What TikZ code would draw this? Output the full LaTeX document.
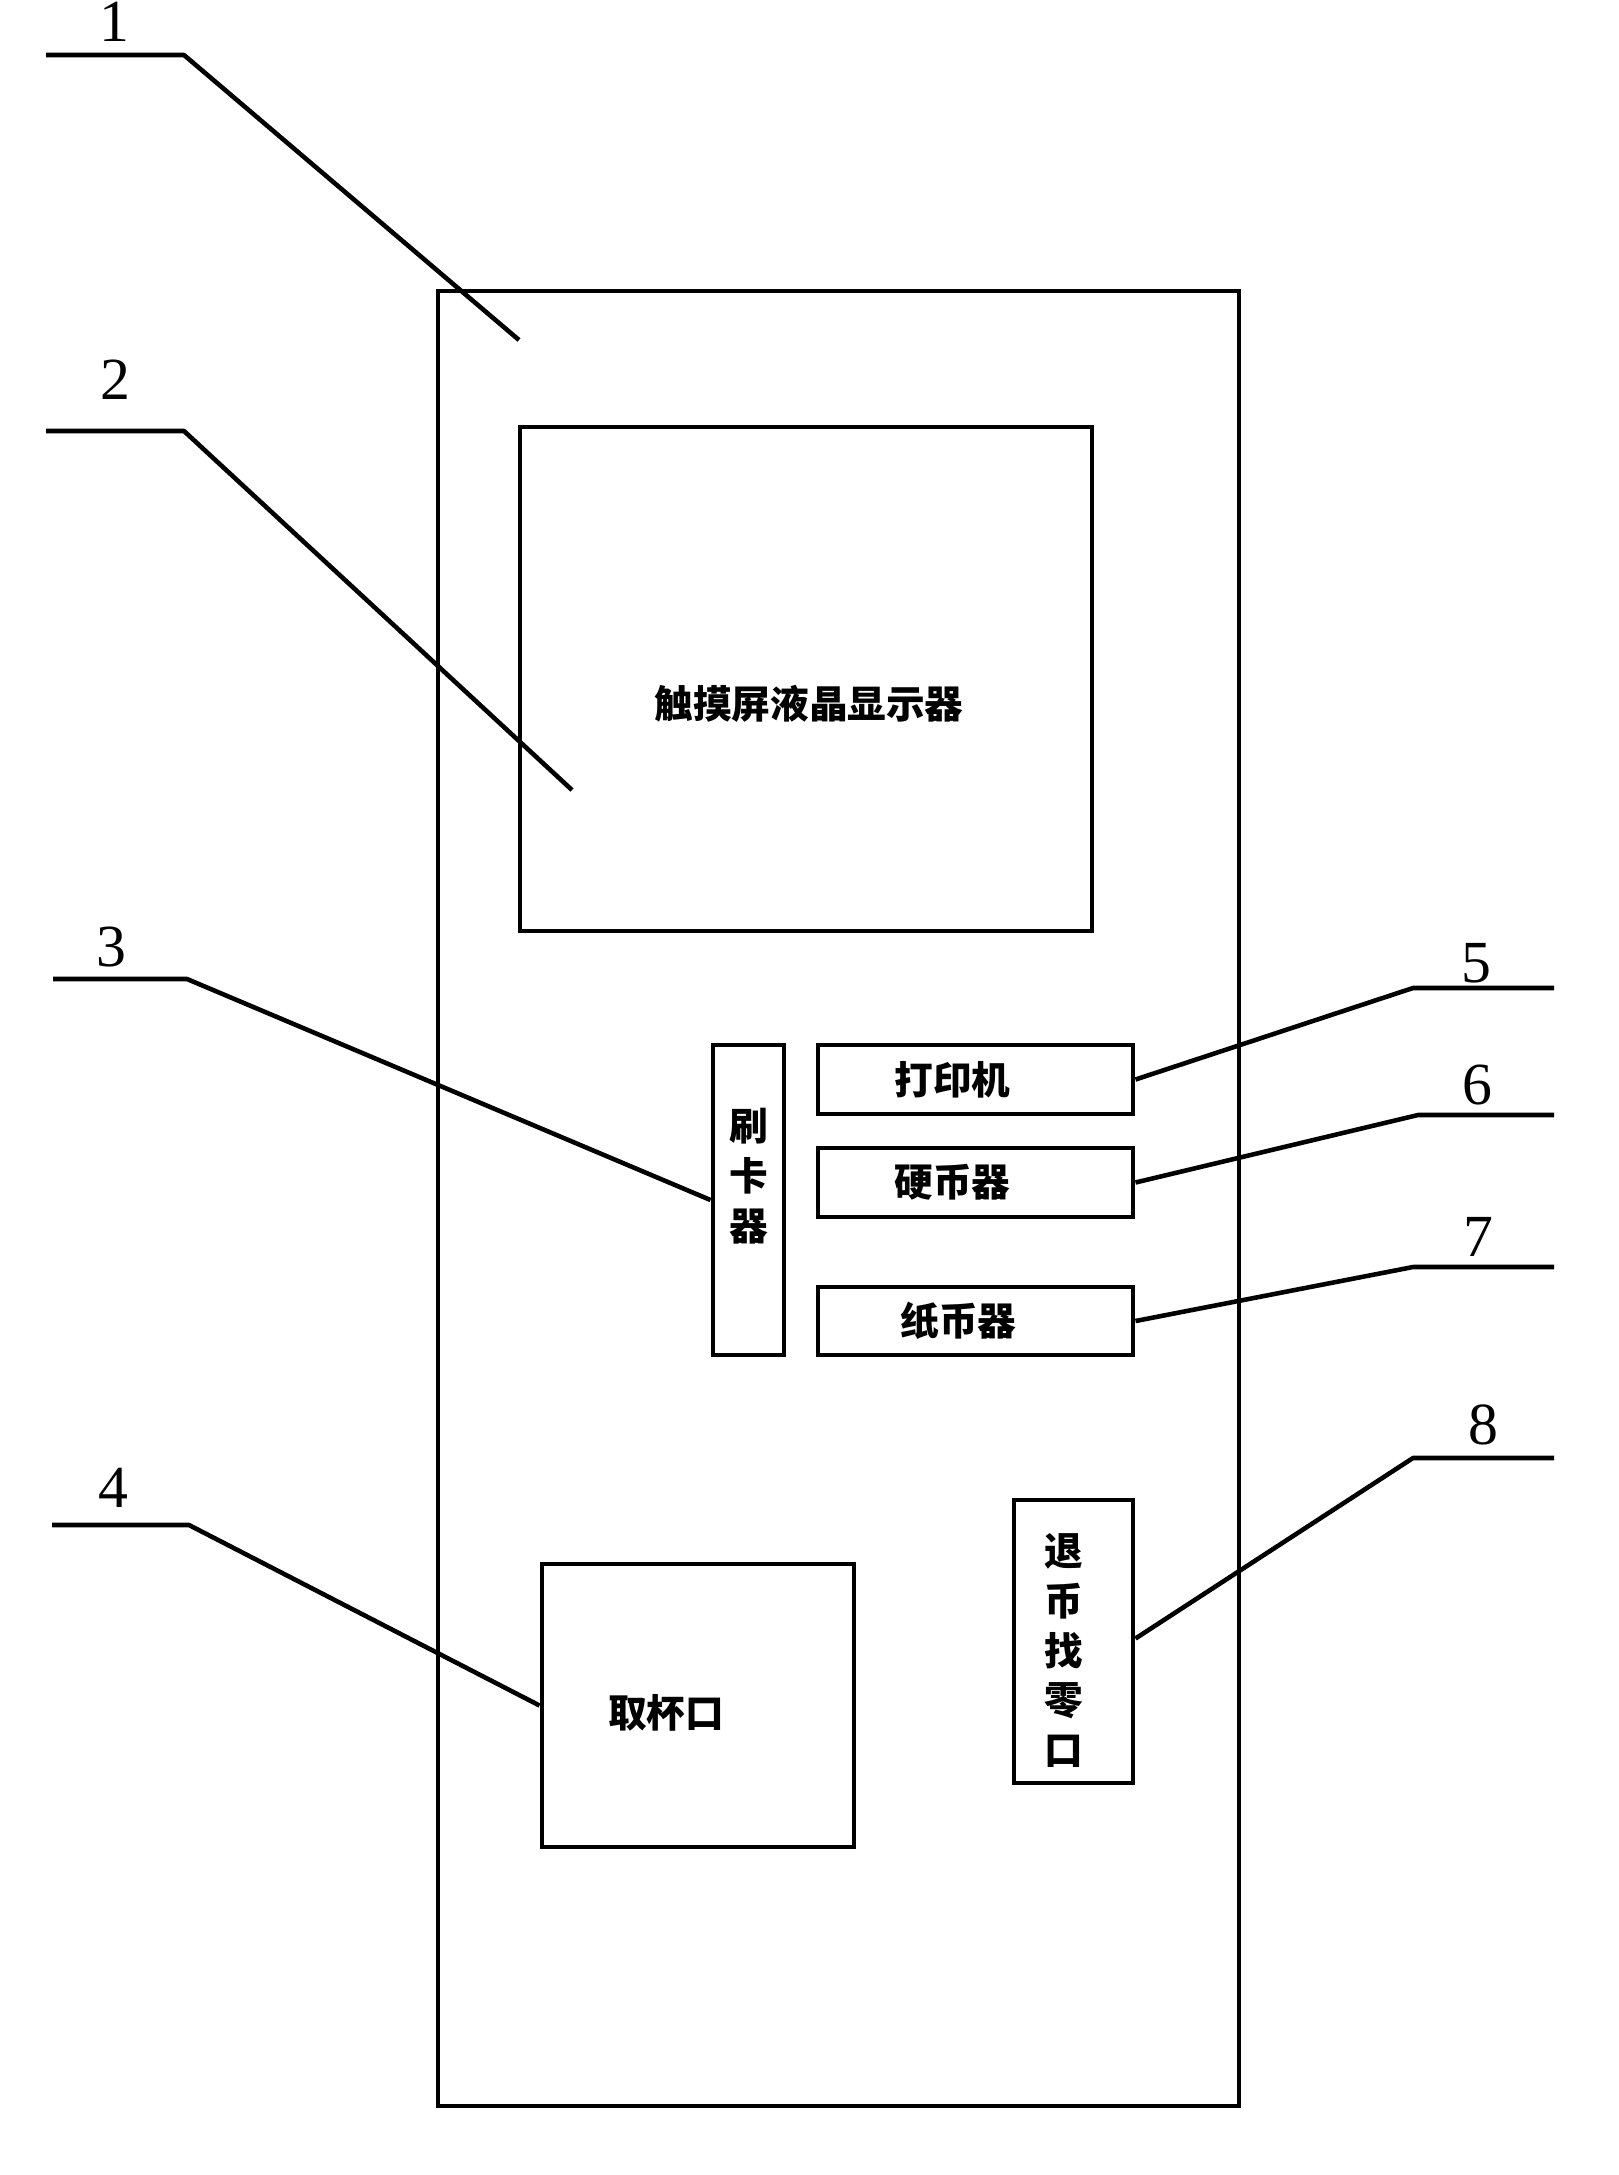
\documentclass[tikz,border=0pt]{standalone}
\usepackage{fontspec}
\setmainfont{Liberation Serif}
\newfontfamily\cjk{Noto Sans CJK SC}
\tikzset{
  part/.style={draw, line width=1.4pt, inner sep=0pt},
  lead/.style={line width=1.3pt, line join=round},
  tag/.style={inner sep=0pt, font=\fontsize{17pt}{20pt}\selectfont},
  word/.style={inner sep=0pt, align=center,
    font=\cjk\bfseries\fontsize{11pt}{14.2pt}\selectfont},
}
\begin{document}
\begin{tikzpicture}
  \useasboundingbox (0,0) rectangle (16.19,-21.75);

  %% machine body and its parts
  \node[part, minimum width=8.01cm, minimum height=18.15cm] (body) at (8.385,-11.985) {};
  \node[part, minimum width=5.72cm, minimum height=5.04cm] (lcd) at (8.06,-6.79) {};
  \node[part, minimum width=0.71cm, minimum height=3.10cm] (card) at (7.485,-12.00) {};
  \node[part, minimum width=3.15cm, minimum height=0.69cm] (prn) at (9.755,-10.795) {};
  \node[part, minimum width=3.15cm, minimum height=0.69cm] (coin) at (9.755,-11.825) {};
  \node[part, minimum width=3.15cm, minimum height=0.68cm] (note) at (9.755,-13.21) {};
  \node[part, minimum width=3.12cm, minimum height=2.83cm] (cup) at (6.98,-17.055) {};
  \node[part, minimum width=1.19cm, minimum height=2.83cm] (change) at (10.735,-16.415) {};

  \node[word] (lcdtxt) at ([xshift=0.3mm,yshift=-2.5mm]lcd.center) {触摸屏液晶显示器};
  \node[word] (cardtxt) at ([yshift=2.4mm]card.center) {刷\\卡\\器};
  \node[word] (prntxt) at ([xshift=-2.3mm]prn.center) {打印机};
  \node[word] (cointxt) at ([xshift=-2.3mm]coin.center) {硬币器};
  \node[word] (notetxt) at ([xshift=-1.7mm]note.center) {纸币器};
  \node[word] (cuptxt) at ([xshift=-3.2mm,yshift=-0.7mm]cup.center) {取杯口};
  \node[word] (changetxt) at ([xshift=-1mm,yshift=-0.9mm]change.center) {退\\币\\找\\零\\口};

  %% leaders on the left
  \coordinate (s1) at (0.46,-0.55);  \coordinate (k1) at (1.84,-0.55);
  \coordinate (e1) at (5.19,-3.40);
  \coordinate (s2) at (0.46,-4.31);  \coordinate (k2) at (1.84,-4.31);
  \coordinate (e2) at (5.72,-7.90);
  \coordinate (s3) at (0.53,-9.79);  \coordinate (k3) at (1.87,-9.79);
  \coordinate (s4) at (0.52,-15.25); \coordinate (k4) at (1.89,-15.25);

  \draw[lead] (s1) -- (k1) -- (e1); %% 1 -> body
  \draw[lead] (s2) -- (k2) -- (e2); %% 2 -> lcd
  \draw[lead] (s3) -- (k3) -- (card.west); %% 3 -> card
  \draw[lead] (s4) -- (k4) -- (cup.west);  %% 4 -> cup

  %% leaders on the right
  \coordinate (s5) at (15.54,-9.88);  \coordinate (k5) at (14.13,-9.88);
  \coordinate (s6) at (15.54,-11.15); \coordinate (k6) at (14.18,-11.15);
  \coordinate (s7) at (15.54,-12.67); \coordinate (k7) at (14.13,-12.67);
  \coordinate (s8) at (15.54,-14.58); \coordinate (k8) at (14.13,-14.58);

  \draw[lead] (s5) -- (k5) -- (prn.east);    %% 5 -> printer
  \draw[lead] (s6) -- (k6) -- (coin.east);   %% 6 -> coins
  \draw[lead] (s7) -- (k7) -- (note.east);   %% 7 -> notes
  \draw[lead] (s8) -- (k8) -- ([yshift=0.3mm]change.east); %% 8 -> change

  \node[tag] (n1) at (1.14,-0.22) {1};
  \node[tag] (n2) at (1.15,-3.80) {2};
  \node[tag] (n3) at (1.11,-9.47) {3};
  \node[tag] (n4) at (1.13,-14.88) {4};
  \node[tag] (n5) at (14.76,-9.63) {5};
  \node[tag] (n6) at (14.77,-10.85) {6};
  \node[tag] (n7) at (14.78,-12.37) {7};
  \node[tag] (n8) at (14.83,-14.25) {8};
\end{tikzpicture}
\end{document}
